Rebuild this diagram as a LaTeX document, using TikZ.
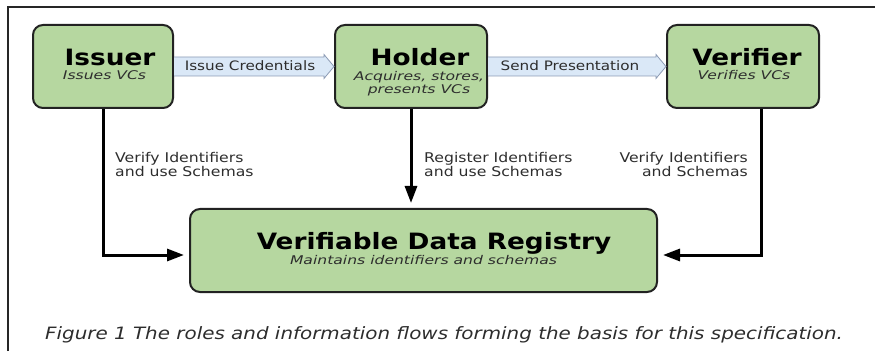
\documentclass[tikz,border=0pt]{standalone}
\usepackage{fontspec}
\setmainfont[FakeStretch=1.17]{DejaVu Sans}
\newfontfamily\subfont[FakeStretch=1.3]{DejaVu Sans}
\usetikzlibrary{arrows.meta,calc}

\definecolor{boxgreen}{RGB}{182,215,160}
\definecolor{boxline}{RGB}{34,34,34}
\definecolor{flowfill}{RGB}{218,232,247}
\definecolor{flowline}{RGB}{140,155,180}
\definecolor{ink}{RGB}{45,45,45}

\begin{document}
\begin{tikzpicture}[x=1pt,y=1pt,
  role/.style={draw=boxline, line width=2pt, fill=boxgreen, rounded corners=10pt,
    inner sep=0pt, minimum height=83pt},
  roletitle/.style={font=\fontsize{22.5}{26}\selectfont\bfseries, text=black,
    inner sep=0pt, anchor=base},
  rolesub/.style={font=\subfont\fontsize{12}{13}\selectfont\itshape, text=ink,
    inner sep=0pt, anchor=base, align=center},
  flowtext/.style={font=\fontsize{13}{14}\selectfont, text=ink, inner sep=0pt,
    anchor=base},
  note/.style={font=\fontsize{13.4}{14.5}\selectfont, text=ink, inner sep=0pt},
  link/.style={line width=3pt, draw=black, line join=miter,
    -{Triangle[length=17pt,width=12pt]}, shorten >=5pt},
  flow/.style={draw=flowline, line width=0.8pt, fill=flowfill, line join=miter},
]
\useasboundingbox (0,0) rectangle (875,351);

% page frame
\draw[line width=1.5pt, draw=black!85] (8,0) -- (8,344) -- (875,344);

% roles
\node[role, minimum width=140pt] (issuer)   at (103,284.5) {};
\node[role, minimum width=152pt] (holder)   at (411,284.5) {};
\node[role, minimum width=152pt] (verifier) at (743,284.5) {};
\node[role, minimum width=467pt] (registry) at (423.5,100.5) {};

% role names; multi-line text sits on the baseline of its last line
\node[roletitle] (issuer-t)   at (110,285) {Issuer};
\node[rolesub]   (issuer-s)   at (104.5,271.5) {Issues VCs};
\node[roletitle] (holder-t)   at (420,285) {Holder};
\node[rolesub]   (holder-s)   at (419,257.5) {Acquires, stores,\\presents VCs};
\node[roletitle] (verifier-t) at (747,285) {Verifier};
\node[rolesub]   (verifier-s) at (744,271.5) {Verifies VCs};
\node[roletitle] (registry-t) at (434,101.5) {Verifiable Data Registry};
\node[rolesub]   (registry-s) at (423.5,87) {Maintains identifiers and schemas};

% credential flows between roles
\draw[flow] ($(issuer.east)+(0,9.5)$) -- ($(holder.west)+(-10,9.5)$)
  -- ($(holder.west)+(-10,12)$) -- (holder.west) -- ($(holder.west)+(-10,-12)$)
  -- ($(holder.west)+(-10,-9.5)$) -- ($(issuer.east)+(0,-9.5)$);
\node[flowtext] (issue-l) at (250,280) {Issue Credentials};

\draw[flow] ($(holder.east)+(0,9.5)$) -- ($(verifier.west)+(-10,9.5)$)
  -- ($(verifier.west)+(-10,12)$) -- (verifier.west) -- ($(verifier.west)+(-10,-12)$)
  -- ($(verifier.west)+(-10,-9.5)$) -- ($(holder.east)+(0,-9.5)$);
\node[flowtext] (present-l) at (570,280) {Send Presentation};

% registry links
\coordinate (verifier-drop) at ($(verifier.south)+(18,0)$);
\draw[link] (issuer.south) |- ($(registry.west)+(0,-4.5)$);
\draw[link] (holder.south) -- (holder.south |- registry.north);
\draw[link] (verifier-drop) |- ($(registry.east)+(0,-4.5)$);

\node[note, anchor=base west, align=left]  (issuer-n)   at (115,174) {Verify Identifiers\\and use Schemas};
\node[note, anchor=base west, align=left]  (holder-n)   at (424,174) {Register Identifiers\\and use Schemas};
\node[note, anchor=base east, align=right] (verifier-n) at (748,174) {Verify Identifiers\\and Schemas};

% caption
\node[font=\fontsize{17}{20}\selectfont\itshape, text=ink, inner sep=0pt, anchor=base west]
  (caption) at (45,12) {Figure 1 The roles and information flows forming the basis for this specification.};
\end{tikzpicture}
\end{document}
